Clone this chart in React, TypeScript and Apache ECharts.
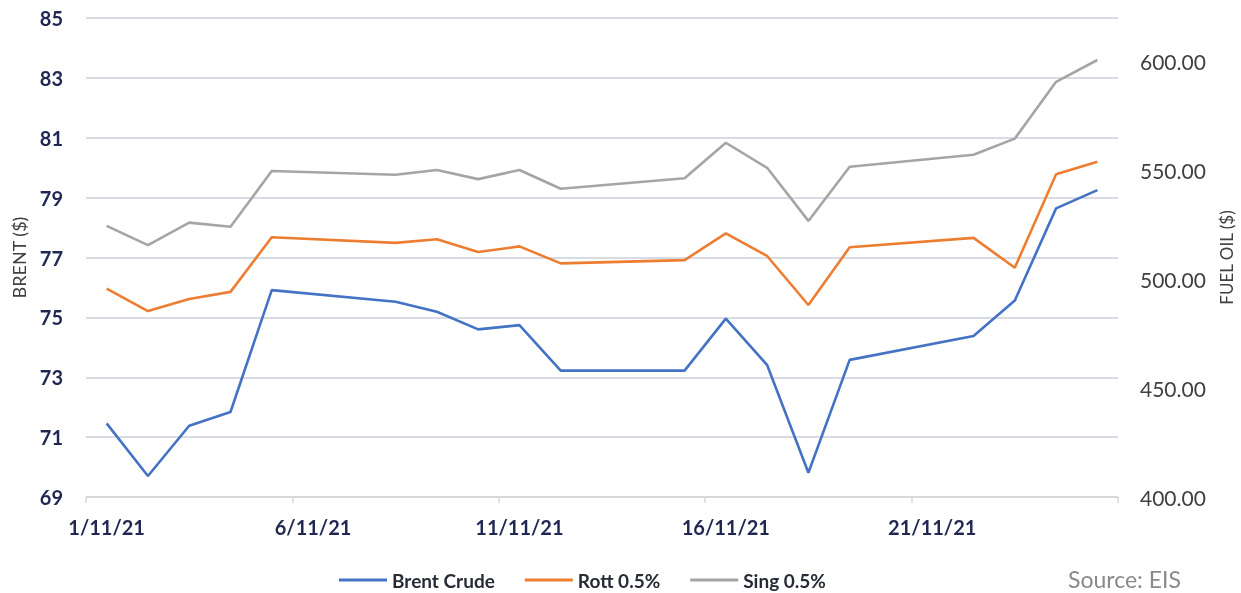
import React, { useEffect, useRef } from "react";
import * as echarts from "echarts";

const dates = [
  "1/11/21", "2/11/21", "3/11/21", "4/11/21", "5/11/21", "6/11/21", "7/11/21",
  "8/11/21", "9/11/21", "10/11/21", "11/11/21", "12/11/21", "13/11/21", "14/11/21",
  "15/11/21", "16/11/21", "17/11/21", "18/11/21", "19/11/21", "20/11/21", "21/11/21",
  "22/11/21", "23/11/21", "24/11/21", "25/11/21",
];

// null = no trading (weekend); lines connect across them
const brentCrude = [
  71.46, 69.7, 71.38, 71.84, 75.91, null, null,
  75.52, 75.19, 74.6, 74.74, 73.22, null, null,
  73.22, 74.96, 73.41, 69.81, 73.58, null, null,
  74.38, 75.56, 78.64, 79.25,
];

const rott05 = [
  495.7, 485.4, 490.9, 494.2, 519.3, null, null,
  516.7, 518.4, 512.5, 515.1, 507.3, null, null,
  508.8, 521.1, 510.7, 488.2, 514.7, null, null,
  519.0, 505.3, 548.2, 554.0,
];

const sing05 = [
  524.5, 515.7, 526.0, 524.1, 549.7, null, null,
  548.0, 550.2, 546.0, 550.2, 541.6, null, null,
  546.4, 562.7, 551.2, 526.8, 551.7, null, null,
  557.2, 564.6, 590.7, 600.7,
];

const seriesNames = ["Brent Crude", "Rott 0.5%", "Sing 0.5%"];
const colors = ["#4472C4", "#ED7D31", "#A5A5A5"];

export default function App() {
  const ref = useRef<HTMLDivElement>(null);
  useEffect(() => {
    if (!ref.current) return;
    const chart = echarts.init(ref.current, null, { renderer: "svg" });
    const font = "Lato";
    chart.setOption({
      animation: false,
      color: colors,
      textStyle: { fontFamily: font },
      grid: {
        left: 86,
        right: 123,
        top: 18,
        bottom: 96,
        containLabel: false,
        outerBoundsMode: "none",
      },
      legend: {
        left: 334,
        top: 565,
        icon: "rect",
        itemWidth: 48,
        itemHeight: 3,
        itemGap: 30,
        data: seriesNames,
        textStyle: {
          fontFamily: font,
          fontWeight: "bold",
          fontSize: 19,
          lineHeight: 20,
          color: "#262b36",
        },
      },
      xAxis: {
        type: "category",
        data: dates,
        boundaryGap: true,
        axisLine: { show: true, lineStyle: { color: "#d9d9d9", width: 1.5 } },
        axisTick: {
          show: true,
          interval: 4,
          length: 6,
          lineStyle: { color: "#d9d9d9", width: 1.5 },
        },
        axisLabel: {
          interval: 4,
          margin: 20,
          fontFamily: font,
          fontWeight: "bold",
          fontSize: 20,
          color: "#1f2752",
        },
        splitLine: { show: false },
      },
      yAxis: [
        {
          type: "value",
          min: 69,
          max: 85,
          interval: 2,
          name: "BRENT ($)",
          nameLocation: "middle",
          nameRotate: 90,
          nameGap: 58,
          nameTextStyle: { fontFamily: font, fontSize: 18, color: "#404040" },
          axisLine: { show: false },
          axisTick: { show: false },
          axisLabel: {
            margin: 23,
            fontFamily: font,
            fontWeight: "bold",
            fontSize: 20,
            color: "#1f2752",
          },
          splitLine: { show: true, lineStyle: { color: "#cbcfdb", width: 1.5 } },
        },
        {
          type: "value",
          min: 400,
          max: 620,
          interval: 50,
          position: "right",
          name: "FUEL OIL ($)",
          nameLocation: "middle",
          nameRotate: 90,
          nameGap: 100,
          nameTextStyle: { fontFamily: font, fontSize: 17, color: "#404040" },
          axisLine: { show: false },
          axisTick: { show: false },
          axisLabel: {
            margin: 22,
            fontFamily: font,
            fontSize: 21,
            color: "#404040",
            showMaxLabel: false,
            formatter: (v: number) => (v > 600 ? "" : v.toFixed(2)),
          },
          splitLine: { show: false },
        },
      ],
      series: [
        {
          name: seriesNames[0],
          type: "line",
          yAxisIndex: 0,
          data: brentCrude,
          connectNulls: true,
          symbol: "none",
          lineStyle: { width: 2.6, color: colors[0] },
          itemStyle: { color: colors[0] },
        },
        {
          name: seriesNames[1],
          type: "line",
          yAxisIndex: 1,
          data: rott05,
          connectNulls: true,
          symbol: "none",
          lineStyle: { width: 2.6, color: colors[1] },
          itemStyle: { color: colors[1] },
        },
        {
          name: seriesNames[2],
          type: "line",
          yAxisIndex: 1,
          data: sing05,
          connectNulls: true,
          symbol: "none",
          lineStyle: { width: 2.6, color: colors[2] },
          itemStyle: { color: colors[2] },
        },
      ],
      graphic: [
        {
          type: "text",
          left: 1068,
          top: 567,
          style: {
            text: "Source: EIS",
            fontFamily: font,
            fontSize: 23,
            fill: "#8a8a8a",
          },
        },
      ],
    });
    return () => chart.dispose();
  }, []);
  return (
    <div
      ref={ref}
      style={{ position: "fixed", left: 0, top: 0, width: 1241, height: 593 }}
    />
  );
}
